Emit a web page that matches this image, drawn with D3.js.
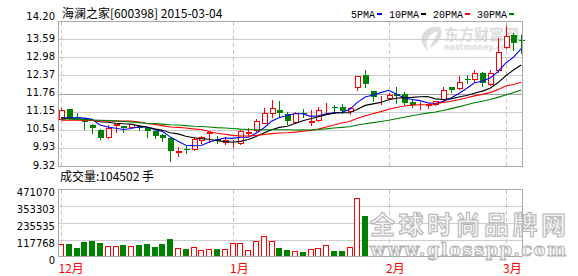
<!DOCTYPE html>
<html>
<head>
<meta charset="utf-8">
<script src="https://cdn.jsdelivr.net/npm/d3@7"></script>
<style>
body { margin: 0; background: #fff; }
</style>
</head>
<body>
<script>
// ---- data ----
var stockTitle = "海澜之家[600398] 2015-03-04";
var volTitle = "成交量:104502 手";

var open  = [10.91,11.24,10.98,10.90,10.70,10.53,10.31,10.70,10.66,10.64,10.68,10.59,10.50,10.36,10.25,9.80,9.90,9.88,10.20,10.43,
             10.24,10.13,10.15,10.08,10.44,10.54,10.78,11.09,11.20,11.07,10.81,11.10,10.80,10.87,11.17,11.29,11.32,11.17,11.99,12.38,
             11.84,11.57,11.62,11.74,11.76,11.47,11.36,11.37,11.40,11.56,11.99,11.93,12.24,12.25,12.46,12.07,12.55,13.31,13.73,13.57];
var high  = [11.26,11.25,11.12,10.92,10.73,10.58,10.70,10.74,10.67,10.74,10.70,10.64,10.53,10.39,10.29,9.95,9.99,10.29,10.33,10.45,
             10.33,10.29,10.18,10.53,10.61,10.90,11.27,11.54,11.52,11.15,11.15,11.23,11.20,11.30,11.45,11.37,11.40,11.32,12.36,12.55,
             11.84,11.69,11.77,11.97,11.82,11.56,11.47,11.45,11.52,11.99,11.99,12.35,12.38,12.55,12.49,12.55,13.62,14.03,13.79,13.73];
var low   = [10.89,10.87,10.89,10.55,10.44,10.24,10.26,10.46,10.48,10.62,10.52,10.31,10.27,10.16,9.50,9.66,9.77,9.86,10.08,10.14,
             10.08,10.06,9.95,10.06,10.36,10.51,10.76,10.96,11.00,10.72,10.76,10.98,10.70,10.83,11.09,11.09,11.09,11.07,11.88,11.99,
             11.52,11.41,11.57,11.43,11.40,11.32,11.24,11.28,11.38,11.48,11.80,11.91,12.12,12.19,12.02,12.05,12.49,13.28,13.22,13.11];
var close = [11.20,10.93,10.93,10.79,10.59,10.27,10.59,10.72,10.59,10.72,10.59,10.51,10.34,10.25,9.83,9.81,9.88,10.22,10.29,10.45,
             10.15,10.19,10.16,10.50,10.45,10.82,11.09,11.28,11.09,10.84,11.11,11.09,10.82,11.20,11.18,11.28,11.18,11.28,12.36,12.08,
             11.63,11.59,11.71,11.68,11.45,11.37,11.38,11.39,11.50,11.88,11.88,12.14,12.23,12.46,12.12,12.46,13.17,13.70,13.45,13.55];

var ma5  = [10.94,10.94,10.94,10.93,10.89,10.70,10.63,10.59,10.55,10.58,10.64,10.63,10.55,10.48,10.30,10.15,10.02,10.00,10.01,10.13,
            10.20,10.26,10.25,10.29,10.29,10.42,10.60,10.83,10.95,11.02,11.08,11.08,10.99,11.01,11.08,11.11,11.13,11.22,11.46,11.64,
            11.71,11.79,11.87,11.74,11.61,11.56,11.52,11.45,11.42,11.50,11.61,11.76,11.93,12.12,12.17,12.28,12.49,12.78,12.98,13.27];
var ma10 = [10.93,10.92,10.90,10.89,10.86,10.81,10.79,10.76,10.74,10.73,10.67,10.63,10.57,10.52,10.44,10.40,10.32,10.27,10.24,10.22,
            10.17,10.14,10.12,10.15,10.21,10.31,10.43,10.54,10.62,10.66,10.75,10.84,10.91,10.98,11.05,11.10,11.11,11.11,11.23,11.36,
            11.41,11.46,11.55,11.60,11.62,11.63,11.65,11.66,11.58,11.56,11.58,11.64,11.69,11.77,11.84,11.94,12.12,12.35,12.55,12.72];
var ma20 = [10.86,10.86,10.86,10.85,10.85,10.84,10.84,10.83,10.83,10.83,10.80,10.75,10.72,10.68,10.63,10.62,10.60,10.57,10.55,10.48,
            10.42,10.39,10.35,10.33,10.33,10.35,10.38,10.41,10.43,10.44,10.46,10.49,10.52,10.56,10.63,10.70,10.77,10.82,10.93,11.01,
            11.08,11.15,11.23,11.29,11.34,11.37,11.38,11.39,11.41,11.46,11.50,11.55,11.62,11.68,11.73,11.79,11.89,12.01,12.06,12.14];
var ma30 = [10.90,10.90,10.89,10.88,10.87,10.86,10.85,10.84,10.82,10.80,10.78,10.76,10.75,10.73,10.71,10.70,10.68,10.66,10.65,10.63,
            10.61,10.60,10.58,10.56,10.55,10.54,10.54,10.54,10.54,10.54,10.53,10.54,10.53,10.55,10.57,10.60,10.62,10.64,10.70,10.74,
            10.78,10.82,10.86,10.91,10.96,11.01,11.06,11.10,11.14,11.19,11.25,11.31,11.38,11.45,11.50,11.56,11.63,11.71,11.79,11.88];

// volume (手), only the first 40 days are drawn in the picture
var volume = [88000,90000,62300,104000,110800,97000,74100,74100,83100,74100,
              83100,90000,69300,90000,124700,60300,55400,67200,46400,53300,
              55400,53300,94900,94900,46400,108800,143400,108800,62300,48500,
              39500,34600,53300,60300,81100,41600,41600,67200,406600,284000];

var priceTicks = [14.20,13.59,12.98,12.37,11.76,11.15,10.54,9.93,9.32];
var volTicks = [471070,353303,235535,117768,0];
var monthLabels = ["12月","1月","2月","3月"];
var monthStart = [0,22,42,57];
var maNames = ["5PMA","10PMA","20PMA","30PMA"];
var maColors = ["#0000ff","#000000","#ff0000","#008000"];

var upColor = "#ff0000", downColor = "#008000", frameColor = "#a8a8a8", gridColor = "#cdcdcd";

var svg = d3.select("body").append("svg")
    .attr("width", 578)
    .attr("height", 276)
    .style("display", "block");
svg.append("rect").attr("width", 578).attr("height", 276).attr("fill", "#fff");

function px(v) { return Math.round(v) + 0.5; }

var left = 59, right = 522;
var x = d3.scaleLinear().domain([0, 59]).range([61, 521.2]);
var y = d3.scaleLinear().domain([9.32, 14.20]).range([166, 21]);
var yv = d3.scaleLinear().domain([0, 471070]).range([257, 189]);

var idx = d3.range(open.length);

//****************************** watermark (eastmoney) *************************
var em = svg.append("g").attr("fill", "#dcdcdc").attr("font-weight", "bold");
em.append("path")
  .attr("d", "M432,27 C420,30 418,44 428,50 C424,42 428,34 438,31 C436,38 432,42 430,48 C440,42 444,34 440,27 Z");
em.append("text").attr("x", 444).attr("y", 40)
  .attr("font-family", "Noto Sans CJK SC").attr("font-size", 15).text("东方财富网");
em.append("text").attr("x", 444).attr("y", 50)
  .attr("font-family", "DejaVu Sans").attr("font-size", 8).text("eastmoney.com");

//****************************** price panel ***********************************
// grid
svg.selectAll(".pgrid")
  .data(priceTicks.slice(1, -1))
  .enter().append("line")
    .attr("x1", left).attr("x2", right)
    .attr("y1", function(d){ return px(y(d)); })
    .attr("y2", function(d){ return px(y(d)); })
    .attr("stroke", function(d){ return d === 11.76 ? "#a0a0a0" : gridColor; });

// month lines
svg.selectAll(".pmonth")
  .data(monthStart)
  .enter().append("line")
    .attr("x1", function(d){ return px(x(d)); })
    .attr("x2", function(d){ return px(x(d)); })
    .attr("y1", 22).attr("y2", 166)
    .attr("stroke", "#c4c4c4")
    .attr("stroke-dasharray", "4,3");

// price labels
svg.selectAll(".plab")
  .data(priceTicks)
  .enter().append("text")
    .attr("x", 55)
    .attr("y", function(d, i){ return i === 0 ? y(d) - 1.5 : y(d) + 2.5; })
    .attr("text-anchor", "end")
    .attr("font-family", "DejaVu Sans")
    .attr("font-size", "10px")
    .attr("fill", "#000")
    .text(function(d){ return d.toFixed(2); });

// candles
var candle = svg.append("g").attr("shape-rendering", "crispEdges");
candle.selectAll(".wick")
  .data(idx)
  .enter().append("line")
    .attr("x1", function(i){ return px(x(i)); })
    .attr("x2", function(i){ return px(x(i)); })
    .attr("y1", function(i){ return Math.round(y(high[i])); })
    .attr("y2", function(i){ return Math.round(y(low[i])) + 1; })
    .attr("stroke", function(i){ return close[i] >= open[i] ? upColor : downColor; });

candle.selectAll(".body")
  .data(idx)
  .enter().append("rect")
    .attr("x", function(i){
        var l = Math.round(x(i)) - 2;
        return close[i] >= open[i] ? l + 0.5 : l;
    })
    .attr("y", function(i){
        var t = Math.round(y(Math.max(open[i], close[i])));
        return close[i] >= open[i] ? t + 0.5 : t;
    })
    .attr("width", function(i){ return close[i] >= open[i] ? 5 : 6; })
    .attr("height", function(i){
        var h = Math.round(y(Math.min(open[i], close[i]))) - Math.round(y(Math.max(open[i], close[i])));
        return close[i] >= open[i] ? Math.max(h, 0) : Math.max(h, 1);
    })
    .attr("fill", function(i){ return close[i] >= open[i] ? "#fff" : downColor; })
    .attr("stroke", function(i){ return close[i] >= open[i] ? upColor : "none"; });

// moving averages
var maSeries = [ma5, ma10, ma20, ma30];
var line = d3.line()
  .x(function(d, i){ return x(i); })
  .y(function(d){ return y(d); });
svg.selectAll(".ma")
  .data(maSeries)
  .enter().append("path")
    .attr("d", function(d){ return line(d); })
    .attr("fill", "none")
    .attr("stroke", function(d, i){ return maColors[i]; })
    .attr("stroke-width", 1.1);

// frame
svg.append("rect")
  .attr("x", left - 0.5).attr("y", 21.5)
  .attr("width", right - left + 1).attr("height", 145)
  .attr("fill", "none").attr("stroke", frameColor);

// title + legend
svg.append("text")
  .attr("x", 62).attr("y", 18)
  .attr("font-family", "Noto Sans CJK SC, DejaVu Sans")
  .attr("font-size", "12px")
  .text(stockTitle);

var lx = 351;
maNames.forEach(function(name, i){
  var t = svg.append("text")
    .attr("x", lx).attr("y", 18)
    .attr("font-family", "Liberation Mono")
    .attr("font-size", "10px")
    .text(name);
  var w = t.node().getComputedTextLength();
  svg.append("rect")
    .attr("x", lx + w + 2).attr("y", 13)
    .attr("width", 5).attr("height", 2)
    .attr("fill", maColors[i]);
  lx += w + 2 + 5 + 7;
});

//****************************** volume panel **********************************
svg.append("text")
  .attr("x", 60).attr("y", 181)
  .attr("font-family", "Noto Sans CJK SC, DejaVu Sans")
  .attr("font-size", "12px")
  .text(volTitle);

svg.selectAll(".vgrid")
  .data(volTicks.slice(1, -1))
  .enter().append("line")
    .attr("x1", left).attr("x2", right)
    .attr("y1", function(d){ return px(yv(d)); })
    .attr("y2", function(d){ return px(yv(d)); })
    .attr("stroke", gridColor);

svg.selectAll(".vmonth")
  .data(monthStart)
  .enter().append("line")
    .attr("x1", function(d){ return px(x(d)); })
    .attr("x2", function(d){ return px(x(d)); })
    .attr("y1", 190).attr("y2", 257)
    .attr("stroke", "#c4c4c4")
    .attr("stroke-dasharray", "4,3");

svg.selectAll(".vlab")
  .data(volTicks)
  .enter().append("text")
    .attr("x", 55)
    .attr("y", function(d){ return yv(d) + 7; })
    .attr("text-anchor", "end")
    .attr("font-family", "DejaVu Sans")
    .attr("font-size", "10px")
    .text(function(d){ return d; });

var vbars = svg.append("g").attr("shape-rendering", "crispEdges");
vbars.selectAll("rect")
  .data(volume)
  .enter().append("rect")
    .attr("x", function(d, i){
        var l = Math.round(x(i)) - 3;
        return close[i] >= open[i] ? l + 0.5 : l;
    })
    .attr("y", function(d, i){
        var t = Math.round(yv(d));
        return close[i] >= open[i] ? t + 0.5 : t;
    })
    .attr("width", function(d, i){ return close[i] >= open[i] ? 5 : 6; })
    .attr("height", function(d, i){
        var h = Math.round(yv(0)) - Math.round(yv(d));
        return close[i] >= open[i] ? h - 1 : h;
    })
    .attr("fill", function(d, i){ return close[i] >= open[i] ? "#fff" : downColor; })
    .attr("stroke", function(d, i){ return close[i] >= open[i] ? upColor : "none"; });

svg.append("rect")
  .attr("x", left - 0.5).attr("y", 189.5)
  .attr("width", right - left + 1).attr("height", 67)
  .attr("fill", "none").attr("stroke", frameColor);

// month labels
svg.selectAll(".mlab")
  .data(monthStart)
  .enter().append("text")
    .attr("x", function(d){ return x(d) - 2.5; })
    .attr("y", 273)
    .attr("font-family", "Noto Sans CJK SC")
    .attr("font-size", "12px")
    .attr("fill", "#ff0000")
    .text(function(d, i){ return monthLabels[i]; });

//****************************** watermark (glosspp) ***************************
var wm = svg.append("g")
  .attr("fill", "#f6f6f6")
  .attr("stroke", "#b4b4b4")
  .attr("stroke-width", 1)
  .attr("font-weight", "bold");
wm.append("text")
  .attr("x", 370).attr("y", 234)
  .attr("font-family", "Noto Sans CJK SC")
  .attr("font-size", "25px")
  .attr("textLength", 196)
  .text("全球时尚品牌网");
wm.append("text")
  .attr("x", 370).attr("y", 256)
  .attr("font-family", "DejaVu Serif")
  .attr("font-size", "18px")
  .attr("textLength", 196)
  .text("www.glosspp.com");
</script>
</body>
</html>
